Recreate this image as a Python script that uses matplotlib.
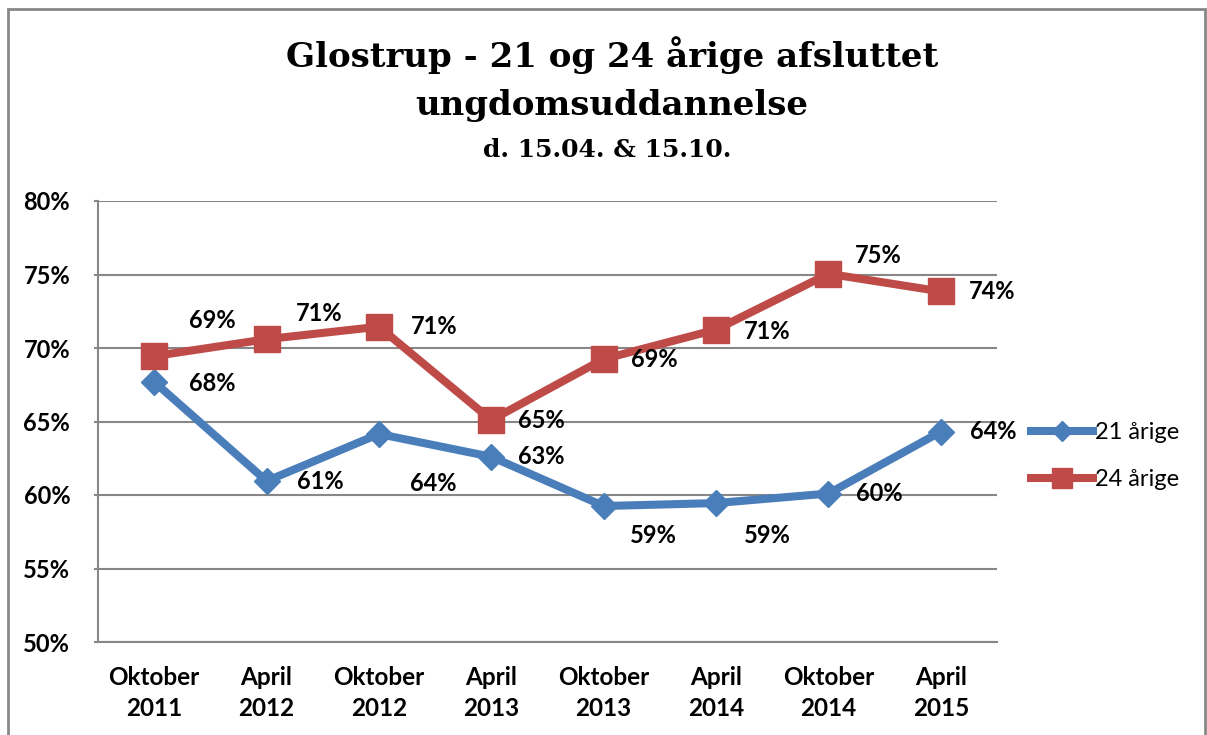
import matplotlib
matplotlib.use("Agg")
import matplotlib.pyplot as plt
from matplotlib.patches import Rectangle

# data
categories = ["Oktober\n2011", "April\n2012", "Oktober\n2012", "April\n2013",
              "Oktober\n2013", "April\n2014", "Oktober\n2014", "April\n2015"]
aarige_21 = [67.7, 60.95, 64.15, 62.6, 59.25, 59.45, 60.1, 64.3]
aarige_24 = [69.45, 70.6, 71.45, 65.1, 69.25, 71.25, 75.05, 73.85]
labels_21 = ["68%", "61%", "64%", "63%", "59%", "59%", "60%", "64%"]
labels_24 = ["69%", "71%", "71%", "65%", "69%", "71%", "75%", "74%"]
yticks = [50, 55, 60, 65, 70, 75, 80]

# label offsets (pixels) relative to the point
off_21 = [(58, -2), (54, 0), (54, -50), (50, 0), (50, -29), (51, -32), (51, 0), (52, 0)]
off_24 = [(58, 36), (53, 26), (55, 0), (50, 0), (51, 0), (51, -2), (50, 18), (51, 0)]

blue = "#4A7EBB"
red = "#BE4B48"
grey = "#878787"
lab_font = "Lato"
title_font = "DejaVu Serif"

fig = plt.figure(figsize=(12.07, 7.35), dpi=100)
fig.patches.append(Rectangle((8 / 1207, -0.01), 1197 / 1207, (735 - 9) / 735 + 0.01,
                             transform=fig.transFigure, fill=False,
                             edgecolor=grey, linewidth=2))

ax = fig.add_axes([98 / 1207, (735 - 642) / 735, 899 / 1207, 441 / 735])
x = list(range(len(categories)))

ax.plot(x, aarige_21, color=blue, lw=5.8, marker="D", ms=13, label="21 årige",
        solid_joinstyle="miter", zorder=3)
ax.plot(x, aarige_24, color=red, lw=5.8, marker="s", ms=19, label="24 årige",
        solid_joinstyle="miter", zorder=3)

for xi, yi, t, o in zip(x, aarige_21, labels_21, off_21):
    ax.annotate(t, (xi, yi), xytext=o, textcoords="offset pixels",
                ha="center", va="center", fontsize=17, fontweight="bold",
                family=lab_font)
for xi, yi, t, o in zip(x, aarige_24, labels_24, off_24):
    ax.annotate(t, (xi, yi), xytext=o, textcoords="offset pixels",
                ha="center", va="center", fontsize=17, fontweight="bold",
                family=lab_font)

ax.set_xlim(-0.5, 7.5)
ax.set_ylim(50, 80)
ax.set_yticks(yticks)
ax.set_yticklabels([f"{v}%" for v in yticks], fontsize=17, fontweight="bold",
                   family=lab_font)
ax.set_xticks(x)
ax.set_xticklabels(categories, fontsize=17.5, fontweight="bold", family=lab_font,
                   linespacing=1.45)
ax.tick_params(axis="x", length=0, pad=17)
ax.tick_params(axis="y", length=3, color=grey, width=1.5, pad=17)
ax.grid(axis="y", color=grey, lw=1.5)
ax.set_axisbelow(True)
for s in ["top", "right"]:
    ax.spines[s].set_visible(False)
for s in ["left", "bottom"]:
    ax.spines[s].set_color(grey)
    ax.spines[s].set_linewidth(1.5)

leg = ax.legend(loc="center left", bbox_to_anchor=(1022 / 1207, 1 - 456 / 735),
                bbox_transform=fig.transFigure, frameon=False, borderaxespad=0,
                prop={"family": lab_font, "size": 17}, handlelength=2.6,
                handletextpad=0.1, labelspacing=1.1, markerscale=0.75)

fig.text(612 / 1207, 1 - 55 / 735, "Glostrup - 21 og 24 årige afsluttet",
         ha="center", va="center", fontsize=24.5, fontweight="bold", family=title_font)
fig.text(612 / 1207, 1 - 105 / 735, "ungdomsuddannelse",
         ha="center", va="center", fontsize=24.5, fontweight="bold", family=title_font)
fig.text(607 / 1207, 1 - 150 / 735, "d. 15.04. & 15.10.",
         ha="center", va="center", fontsize=18, fontweight="bold", family=title_font)

fig.savefig("out.png", dpi=100)
